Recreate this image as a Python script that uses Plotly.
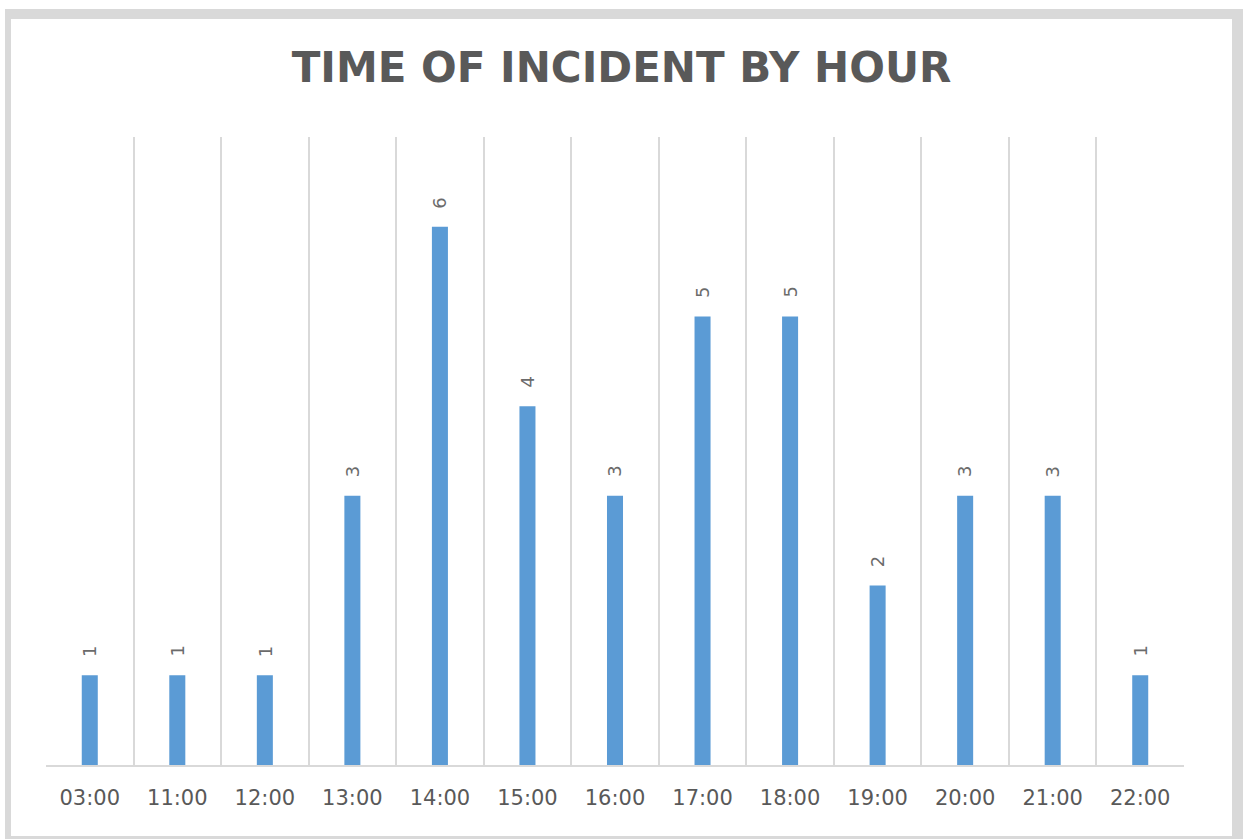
import plotly.graph_objects as go

hours = ["03:00", "11:00", "12:00", "13:00", "14:00", "15:00", "16:00",
         "17:00", "18:00", "19:00", "20:00", "21:00", "22:00"]
counts = [1, 1, 1, 3, 6, 4, 3, 5, 5, 2, 3, 3, 1]

W, H = 1243, 839
L, R, T, B = 46, 1184, 137, 765  # plot area in px


def px_x(p):
    return (p - L) / (R - L)


def px_y(p):
    return (B - p) / (B - T)


fig = go.Figure()
fig.add_trace(go.Bar(
    x=hours, y=counts, width=0.183,
    marker=dict(color="#5B9BD5", line=dict(width=0)),
    hoverinfo="x+y",
))

for h, c in zip(hours, counts):
    fig.add_annotation(
        x=h, y=c, xref="x", yref="y", text=str(c), showarrow=False,
        textangle=-90, yshift=24, yanchor="middle", xanchor="center",
        font=dict(family="DejaVu Sans", size=18, color="#6b6b6b"),
    )

# grey frame around the chart
frame = "#D9D9D9"
rects = [
    (5, 9, 11, 839),      # left
    (5, 9, 1243, 19),     # top
    (1232, 9, 1243, 839), # right
    (5, 836, 1243, 839),  # bottom
]
for x0, y0, x1, y1 in rects:
    fig.add_shape(type="rect", xref="paper", yref="paper",
                  x0=px_x(x0), x1=px_x(x1), y0=px_y(y0), y1=px_y(y1),
                  fillcolor=frame, line=dict(width=0), layer="above")

fig.update_layout(
    width=W, height=H,
    margin=dict(l=L, r=W - R, t=T, b=H - B),
    paper_bgcolor="white", plot_bgcolor="white",
    showlegend=False,
    title=dict(
        text="<b>TIME OF INCIDENT BY HOUR</b>",
        x=0.5, xref="container", xanchor="center",
        y=1 - 67 / H, yref="container", yanchor="middle",
        font=dict(family="DejaVu Sans", size=42, color="#595959"),
    ),
    xaxis=dict(
        type="category", tickson="boundaries", range=[-0.5, 12.5],
        showgrid=True, gridcolor="#D9D9D9", gridwidth=1.5,
        showline=True, linecolor="#D9D9D9", linewidth=2,
        ticks="", ticklabelstandoff=13,
        tickfont=dict(family="DejaVu Sans", size=21, color="#595959"),
        zeroline=False, fixedrange=True,
    ),
    yaxis=dict(
        range=[0, 7], showgrid=False, showticklabels=False, zeroline=False,
        showline=False, ticks="", fixedrange=True,
    ),
)

fig.write_html(
    "out.html",
    config={"displayModeBar": False},
    post_script="document.body.style.margin='0';document.body.style.overflow='hidden';",
)
